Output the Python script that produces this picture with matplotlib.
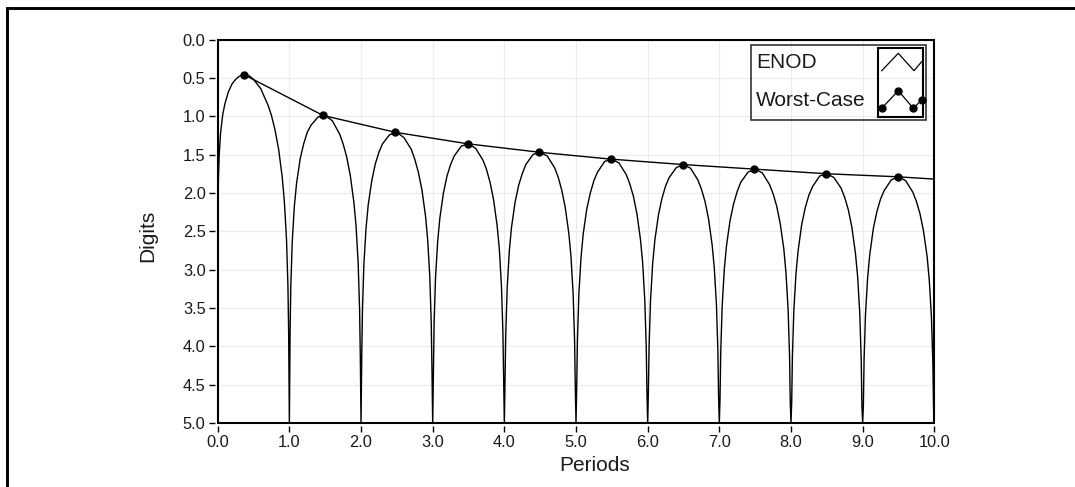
import matplotlib
matplotlib.use('Agg')
import matplotlib.pyplot as plt
from matplotlib.lines import Line2D
from matplotlib.patches import Rectangle

plt.rcParams['font.family'] = ['Liberation Sans', 'DejaVu Sans']

#### ENOD curve (Digits axis runs 0 -> 5, downwards)
lobe0_x = [0.0, 0.001, 0.005, 0.01, 0.02, 0.04, 0.07, 0.1, 0.15, 0.2, 0.25, 0.3, 0.37, 0.4, 0.45,
           0.5, 0.6, 0.7, 0.75, 0.8, 0.85, 0.9, 0.93, 0.96, 0.98, 0.99]
lobe0_y = [5.0, 2.82, 2.12, 1.82, 1.52, 1.22, 0.98, 0.84, 0.68, 0.58, 0.52, 0.48, 0.46, 0.46, 0.48,
           0.52, 0.64, 0.85, 0.99, 1.18, 1.43, 1.79, 2.11, 2.60, 3.21, 3.82]

lobe1_x = [1.0, 1.01, 1.02, 1.04, 1.07, 1.1, 1.15, 1.2, 1.25, 1.3, 1.4,
           1.5, 1.6, 1.7, 1.75, 1.8, 1.85, 1.9, 1.93, 1.96, 1.98, 1.99]
lobe1_y = [5.0, 3.83, 3.23, 2.64, 2.17, 1.88, 1.56, 1.36, 1.21, 1.12, 1.01,
           0.99, 1.06, 1.23, 1.36, 1.53, 1.77, 2.12, 2.42, 2.91, 3.52, 4.12]

lobe2_x = [2.0, 2.01, 2.02, 2.04, 2.07, 2.1, 2.15, 2.2, 2.25, 2.3, 2.4,
           2.5, 2.6, 2.7, 2.75, 2.8, 2.85, 2.9, 2.93, 2.96, 2.98, 2.99]
lobe2_y = [5.0, 4.13, 3.53, 2.93, 2.46, 2.16, 1.84, 1.62, 1.47, 1.36, 1.24,
           1.21, 1.28, 1.43, 1.56, 1.73, 1.96, 2.30, 2.61, 3.09, 3.70, 4.30]

lobe3_x = [3.0, 3.01, 3.02, 3.04, 3.07, 3.1, 3.15, 3.2, 3.25, 3.3, 3.4,
           3.5, 3.6, 3.7, 3.75, 3.8, 3.85, 3.9, 3.93, 3.96, 3.98, 3.99]
lobe3_y = [5.0, 4.30, 3.70, 3.10, 2.63, 2.33, 2.00, 1.78, 1.63, 1.52, 1.39,
           1.36, 1.42, 1.57, 1.69, 1.86, 2.09, 2.43, 2.73, 3.22, 3.82, 4.42]

lobe4_x = [4.0, 4.01, 4.02, 4.04, 4.07, 4.1, 4.15, 4.2, 4.25, 4.3, 4.4,
           4.5, 4.6, 4.7, 4.75, 4.8, 4.85, 4.9, 4.93, 4.96, 4.98, 4.99]
lobe4_y = [5.0, 4.43, 3.83, 3.23, 2.75, 2.45, 2.12, 1.90, 1.75, 1.63, 1.50,
           1.47, 1.52, 1.67, 1.79, 1.96, 2.19, 2.53, 2.83, 3.32, 3.92, 4.52]

lobe5_x = [5.0, 5.01, 5.02, 5.04, 5.07, 5.1, 5.15, 5.2, 5.25, 5.3, 5.4,
           5.5, 5.6, 5.7, 5.75, 5.8, 5.85, 5.9, 5.93, 5.96, 5.98, 5.99]
lobe5_y = [5.0, 4.52, 3.92, 3.32, 2.84, 2.54, 2.21, 2.00, 1.84, 1.73, 1.59,
           1.56, 1.61, 1.76, 1.88, 2.04, 2.27, 2.61, 2.91, 3.40, 4.00, 4.60]

lobe6_x = [6.0, 6.01, 6.02, 6.04, 6.07, 6.1, 6.15, 6.2, 6.25, 6.3, 6.4,
           6.5, 6.6, 6.7, 6.75, 6.8, 6.85, 6.9, 6.93, 6.96, 6.98, 6.99]
lobe6_y = [5.0, 4.60, 4.00, 3.40, 2.92, 2.62, 2.29, 2.07, 1.91, 1.80, 1.67,
           1.63, 1.68, 1.83, 1.95, 2.11, 2.34, 2.68, 2.98, 3.46, 4.06, 4.67]

lobe7_x = [7.0, 7.01, 7.02, 7.04, 7.07, 7.1, 7.15, 7.2, 7.25, 7.3, 7.4,
           7.5, 7.6, 7.7, 7.75, 7.8, 7.85, 7.9, 7.93, 7.96, 7.98, 7.99]
lobe7_y = [5.0, 4.67, 4.07, 3.47, 2.99, 2.69, 2.36, 2.14, 1.98, 1.86, 1.73,
           1.69, 1.74, 1.89, 2.01, 2.17, 2.40, 2.73, 3.04, 3.52, 4.12, 4.73]

lobe8_x = [8.0, 8.01, 8.02, 8.04, 8.07, 8.1, 8.15, 8.2, 8.25, 8.3, 8.4,
           8.5, 8.6, 8.7, 8.75, 8.8, 8.85, 8.9, 8.93, 8.96, 8.98, 8.99]
lobe8_y = [5.0, 4.73, 4.13, 3.53, 3.05, 2.75, 2.41, 2.19, 2.03, 1.92, 1.78,
           1.75, 1.80, 1.94, 2.06, 2.22, 2.45, 2.79, 3.09, 3.57, 4.17, 4.78]

lobe9_x = [9.0, 9.01, 9.02, 9.04, 9.07, 9.1, 9.15, 9.2, 9.25, 9.3, 9.4,
           9.5, 9.6, 9.7, 9.75, 9.8, 9.85, 9.9, 9.93, 9.96, 9.98, 9.99, 10.0]
lobe9_y = [5.0, 4.78, 4.18, 3.58, 3.10, 2.80, 2.46, 2.24, 2.08, 1.97, 1.83,
           1.79, 1.84, 1.99, 2.11, 2.27, 2.50, 2.83, 3.14, 3.62, 4.22, 4.82, 5.0]

#### worst-case envelope: dots on the lobe tops, line runs on to 10
worst_x = [0.37, 1.47, 2.48, 3.49, 4.49, 5.49, 6.49, 7.49, 8.49, 9.49, 10.0]
worst_y = [0.46, 0.99, 1.21, 1.36, 1.47, 1.56, 1.63, 1.69, 1.75, 1.79, 1.82]

x_ticks = [0, 1, 2, 3, 4, 5, 6, 7, 8, 9, 10]
x_labels = ['0.0', '1.0', '2.0', '3.0', '4.0', '5.0', '6.0', '7.0', '8.0', '9.0', '10.0']
y_ticks = [0, 0.5, 1, 1.5, 2, 2.5, 3, 3.5, 4, 4.5, 5]
y_labels = ['0.0', '0.5', '1.0', '1.5', '2.0', '2.5', '3.0', '3.5', '4.0', '4.5', '5.0']

enod_x = lobe0_x + lobe1_x + lobe2_x + lobe3_x + lobe4_x + lobe5_x + lobe6_x + lobe7_x + lobe8_x + lobe9_x
enod_y = lobe0_y + lobe1_y + lobe2_y + lobe3_y + lobe4_y + lobe5_y + lobe6_y + lobe7_y + lobe8_y + lobe9_y

#### figure in pixel terms
W, H = 1075, 487
def fx(px):
    return px / W
def fy(py):
    return 1 - py / H

fig = plt.figure(figsize=(W / 100, H / 100), dpi=100)
fig.patch.set_facecolor('white')

ax = fig.add_axes([fx(217.7), fy(423), (934.3 - 217.7) / W, (423 - 39.5) / H])
ax.plot(enod_x, enod_y, color='black', lw=1.0)
ax.plot(worst_x, worst_y, color='black', lw=1.0, marker='o', ms=5,
        markevery=list(range(len(worst_x) - 1)))

ax.set_xlim(0, 10)
ax.set_ylim(5, 0)
ax.set_xticks(x_ticks)
ax.set_xticklabels(x_labels)
ax.set_yticks(y_ticks)
ax.set_yticklabels(y_labels)
ax.grid(color='#ebebeb', lw=0.8)
ax.set_axisbelow(True)

## ticks sit a little away from the frame
for s in ax.spines.values():
    s.set_visible(False)
ax.spines['left'].set_position(('outward', 2.2))
ax.spines['bottom'].set_position(('outward', 2.2))
ax.add_patch(Rectangle((0, 0), 1, 1, transform=ax.transAxes, fill=False,
                       ec='black', lw=1.5, clip_on=False, zorder=5))
ax.tick_params(direction='out', length=4.5, width=1, colors='black',
               labelcolor='#1a1a1a', labelsize=11.8, pad=2)

ax.set_ylabel('Digits', fontsize=15, color='#1a1a1a', va='center')
ax.yaxis.set_label_coords(-0.098, 0.489)
ax.set_xlabel('Periods', fontsize=15, color='#1a1a1a', va='center')
ax.xaxis.set_label_coords(0.526, -0.111)

#### legend box (drawn by hand, symbols sit in their own box on the right)
fig.add_artist(Rectangle((fx(751), fy(119.5)), (926 - 751) / W, (119.5 - 45) / H,
                         transform=fig.transFigure, fill=False, ec='#333333', lw=1.2))
fig.add_artist(Rectangle((fx(878.3), fy(117.3)), (922.7 - 878.3) / W, (117.3 - 48.3) / H,
                         transform=fig.transFigure, fill=False, ec='black', lw=1.5))
fig.add_artist(Line2D([fx(881.7), fx(898.3), fx(914), fx(921.7)],
                      [fy(70.7), fy(53.3), fy(70.7), fy(61.7)], color='black', lw=0.9))
fig.add_artist(Line2D([fx(881.7), fx(898.3), fx(913.3), fx(921.7)],
                      [fy(108.3), fy(90.7), fy(108.3), fy(100)], color='black', lw=0.9,
                      marker='o', ms=5))
fig.text(fx(756), fy(62.5), 'ENOD', fontsize=15, color='#1a1a1a', va='center', ha='left')
fig.text(fx(756), fy(100.7), 'Worst-Case', fontsize=15, color='#1a1a1a', va='center', ha='left')

#### outer frame: left and top edges only
fig.add_artist(Line2D([fx(6.7), fx(6.7), 1], [0, fy(7.5), fy(7.5)], color='black',
                      lw=2.1, solid_capstyle='butt', solid_joinstyle='miter'))

fig.savefig('out.png', dpi=100, facecolor='white')
